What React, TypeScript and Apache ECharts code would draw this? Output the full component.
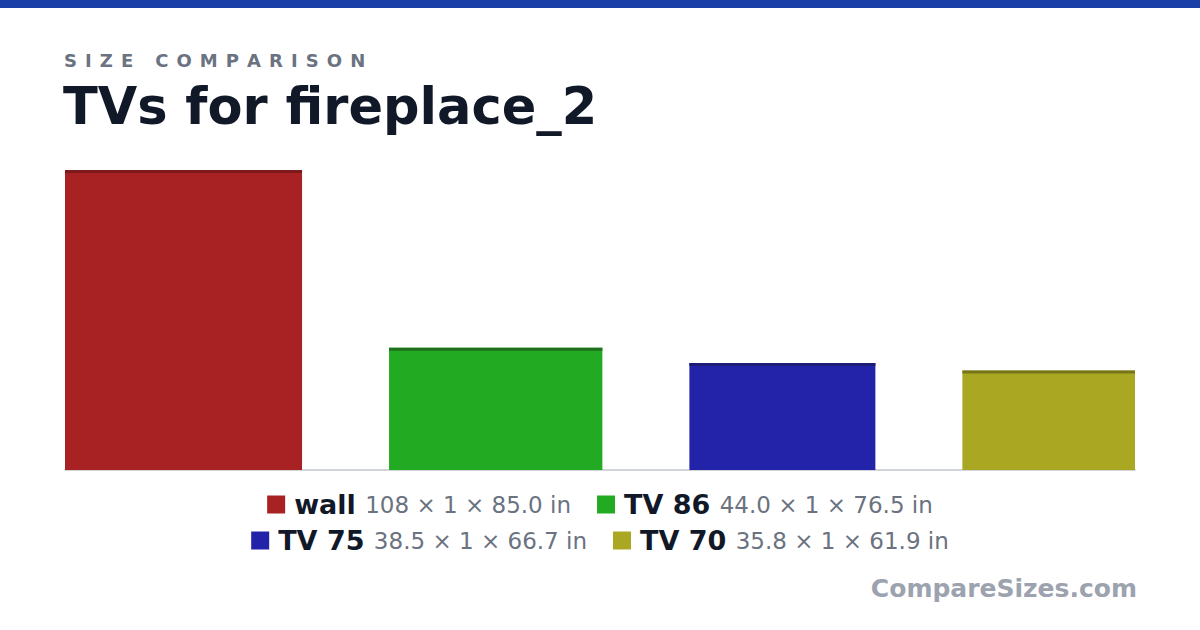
import React, { useEffect, useRef } from "react";
import * as echarts from "echarts";

const names = ["wall", "TV 86", "TV 75", "TV 70"];
// dimensions: width × depth × height (inches)
const dimA = [108, 44.0, 38.5, 35.8]; // drawn as bar height
const dimB = [1, 1, 1, 1];
const dimC = [85.0, 76.5, 66.7, 61.9]; // drawn as bar width
const colors = ["#a82224", "#22aa22", "#2323aa", "#aaa823"];
const topColors = ["#7c1a1c", "#1f6f1f", "#1d1d78", "#77751a"];
const GAP_IN = 31.2;

const FONT = "'DejaVu Sans', 'Noto Sans', sans-serif";

function fmt(v: number): string {
  return v >= 100 ? v.toFixed(0) : v.toFixed(1);
}

export default function App() {
  const ref = useRef<HTMLDivElement>(null);
  useEffect(() => {
    document.body.style.margin = "0";
    if (!ref.current) return;
    const chart = echarts.init(ref.current, null, { renderer: "svg" });

    const starts: number[] = [];
    let acc = 0;
    dimC.forEach((w, i) => {
      starts.push(acc);
      acc += w + (i < dimC.length - 1 ? GAP_IN : 0);
    });
    const total = acc;

    const series = names.map((name, i) => ({
      type: "custom",
      name,
      itemStyle: { color: colors[i] },
      data: [[starts[i], starts[i] + dimC[i], dimA[i]]],
      encode: { x: [0, 1], y: 2 },
      renderItem: (params: any, api: any) => {
        const x0 = api.value(0);
        const x1 = api.value(1);
        const h = api.value(2);
        const p0 = api.coord([x0, h]);
        const p1 = api.coord([x1, 0]);
        const w = p1[0] - p0[0];
        return {
          type: "group",
          children: [
            {
              type: "rect",
              shape: { x: p0[0], y: p0[1], width: w, height: p1[1] - p0[1] },
              style: { fill: colors[i] },
            },
            {
              type: "rect",
              shape: { x: p0[0], y: p0[1], width: w, height: 3 },
              style: { fill: topColors[i] },
            },
          ],
        };
      },
    }));

    const legendFormatter = (name: string) => {
      const i = names.indexOf(name);
      return `{n|${name} }{d|${fmt(dimA[i])} × ${fmt(dimB[i]).replace(".0", "")} × ${fmt(dimC[i])} in}`;
    };
    const legendCommon = {
      left: "center",
      orient: "horizontal",
      icon: "rect",
      itemWidth: 18,
      itemHeight: 18,
      itemGap: 26,
      selectedMode: false,
      formatter: legendFormatter,
      textStyle: {
        rich: {
          n: {
            fontFamily: FONT,
            fontSize: 27,
            fontWeight: "bold",
            color: "#111827",
            lineHeight: 30,
            padding: [0, 0, 0, 4],
          },
          d: {
            fontFamily: FONT,
            fontSize: 23,
            color: "#6b7280",
            lineHeight: 30,
          },
        },
      },
    };

    chart.setOption({
      animation: false,
      backgroundColor: "#ffffff",
      grid: { left: 65, right: 65, top: 170, bottom: 160 },
      xAxis: {
        type: "value",
        min: 0,
        max: total,
        axisLine: { show: true, lineStyle: { color: "#d1d5db", width: 2 } },
        axisTick: { show: false },
        axisLabel: { show: false },
        splitLine: { show: false },
      },
      yAxis: {
        type: "value",
        min: 0,
        max: 108,
        show: false,
        splitLine: { show: false },
      },
      legend: [
        { ...legendCommon, top: 486, data: [names[0], names[1]] },
        { ...legendCommon, top: 522, data: [names[2], names[3]] },
      ],
      graphic: [
        {
          type: "rect",
          left: 0,
          top: 0,
          shape: { x: 0, y: 0, width: 1200, height: 8 },
          style: { fill: "#1a40a8" },
        },
        {
          type: "text",
          x: 64,
          y: 51,
          style: {
            text: "S \u200AI \u200AZ \u200AE \u200A\u2004\u200A C \u200AO \u200AM \u200AP \u200AA \u200AR \u200AI \u200AS \u200AO \u200AN",
            font: `bold 18px ${FONT}`,
            fill: "#6b7280",
            textVerticalAlign: "top",
          },
        },
        {
          type: "text",
          x: 63,
          y: 81,
          style: {
            text: "TVs for fireplace_2",
            font: `bold 51px ${FONT}`,
            fill: "#111827",
            textVerticalAlign: "top",
          },
        },
        {
          type: "text",
          x: 1137,
          y: 576,
          style: {
            text: "CompareSizes.com",
            font: `bold 25px ${FONT}`,
            fill: "#9ca3af",
            textAlign: "right",
            textVerticalAlign: "top",
          },
        },
      ],
      series,
    });
    return () => chart.dispose();
  }, []);
  return <div ref={ref} style={{ width: 1200, height: 630 }} />;
}
